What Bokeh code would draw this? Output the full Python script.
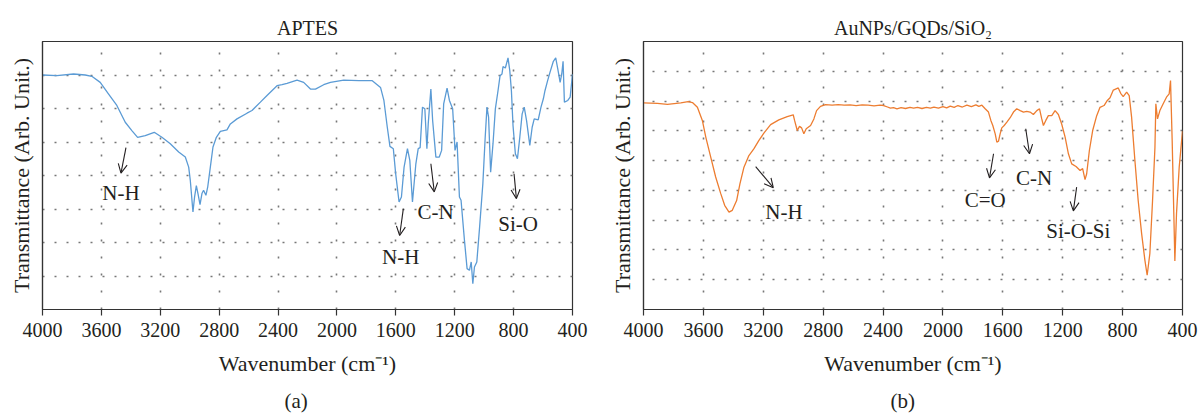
from bokeh.plotting import figure
from bokeh.models import Range1d, FixedTicker, Arrow, OpenHead, Label, Title
from bokeh.layouts import row
from bokeh.embed import file_html
from bokeh.resources import INLINE

# ---------------- data ----------------
x_ticks = [4000, 3600, 3200, 2800, 2400, 2000, 1600, 1200, 800, 400]

aptes_wn = [
    4000, 3903, 3789, 3710, 3665, 3608, 3551, 3495, 3438, 3393,
    3354, 3302, 3241, 3189, 3132, 3075, 3030, 3007, 2996, 2978,
    2967, 2955, 2944, 2930, 2917, 2906, 2890, 2878, 2860, 2842,
    2819, 2792, 2747, 2724, 2679, 2611, 2577, 2520, 2475, 2407,
    2373, 2339, 2271, 2226, 2180, 2146, 2090, 2044, 1954, 1850,
    1760, 1704, 1681, 1658, 1640, 1617, 1601, 1578, 1562, 1544,
    1521, 1505, 1487, 1464, 1448, 1435, 1419, 1403, 1389, 1380,
    1362, 1350, 1328, 1305, 1289, 1275, 1252, 1236, 1214, 1198,
    1184, 1168, 1157, 1134, 1116, 1100, 1088, 1077, 1066, 1050,
    1031, 1009, 993, 981, 970, 956, 940, 924, 906, 892,
    879, 872, 856, 838, 826, 815, 804, 788, 774, 758,
    742, 728, 712, 690, 674, 660, 633, 614, 598, 587,
    569, 553, 530, 514, 500, 484, 473, 464, 455, 432,
    416, 400,
]
aptes_t = [
    7.00, 6.98, 7.03, 7.00, 6.96, 6.78, 6.43, 6.09, 5.59, 5.34,
    5.14, 5.19, 5.29, 5.14, 4.95, 4.70, 4.55, 4.25, 3.85, 2.91,
    3.36, 3.70, 3.46, 3.13, 3.46, 3.56, 3.41, 3.65, 4.25, 4.85,
    5.14, 5.32, 5.36, 5.54, 5.69, 5.86, 5.94, 6.19, 6.39, 6.68,
    6.71, 6.75, 6.85, 6.78, 6.58, 6.58, 6.71, 6.78, 6.85, 6.83,
    6.83, 6.63, 6.24, 5.44, 4.87, 4.80, 4.05, 3.21, 3.36, 4.25,
    4.80, 4.45, 3.21, 4.35, 4.80, 4.83, 6.04, 5.99, 4.80, 5.54,
    6.58, 5.64, 4.55, 4.55, 4.75, 6.14, 6.61, 6.24, 5.99, 4.75,
    5.00, 3.36, 3.26, 2.07, 1.22, 1.17, 1.42, 0.77, 1.27, 1.42,
    2.46, 3.75, 5.14, 6.04, 5.74, 4.10, 4.95, 5.99, 6.53, 6.98,
    7.03, 7.25, 7.21, 7.51, 7.13, 6.53, 5.49, 4.65, 4.50, 5.14,
    5.84, 6.04, 5.64, 4.90, 5.44, 5.69, 5.66, 6.04, 6.29, 6.53,
    6.83, 7.08, 7.41, 7.51, 7.18, 6.78, 7.03, 7.41, 6.19, 6.24,
    6.34, 7.03,
]

composite_wn = [
    4000, 3907, 3840, 3751, 3702, 3673, 3640, 3607, 3584, 3551,
    3518, 3484, 3458, 3429, 3407, 3378, 3356, 3329, 3296, 3262,
    3229, 3196, 3151, 3096, 3040, 3000, 2991, 2973, 2958, 2944,
    2929, 2913, 2884, 2862, 2844, 2818, 2784, 2740, 2700, 2660,
    2620, 2580, 2540, 2500, 2460, 2420, 2396, 2370, 2351, 2330,
    2307, 2280, 2250, 2220, 2196, 2170, 2140, 2110, 2084, 2060,
    2030, 2000, 1975, 1951, 1925, 1900, 1870, 1840, 1810, 1780,
    1760, 1740, 1718, 1696, 1680, 1667, 1651, 1640, 1629, 1618,
    1607, 1591, 1573, 1551, 1529, 1507, 1484, 1462, 1440, 1418,
    1396, 1373, 1355, 1340, 1329, 1313, 1296, 1273, 1251, 1229,
    1207, 1184, 1162, 1140, 1111, 1084, 1067, 1051, 1040, 1022,
    1000, 973, 951, 924, 902, 884, 862, 829, 813, 796,
    773, 756, 740, 718, 696, 673, 651, 636, 618, 600,
    584, 578, 567, 551, 529, 507, 489, 480, 469, 458,
    451, 440, 422, 400,
]
composite_t = [
    6.94, 6.92, 6.89, 6.94, 6.98, 6.95, 6.79, 6.35, 5.79, 5.12,
    4.45, 3.89, 3.50, 3.27, 3.33, 3.66, 4.22, 4.78, 5.17, 5.40,
    5.68, 5.92, 6.21, 6.37, 6.48, 6.54, 6.35, 6.01, 6.15, 6.10,
    5.90, 6.07, 6.18, 6.40, 6.68, 6.82, 6.88, 6.86, 6.88, 6.86,
    6.87, 6.85, 6.87, 6.86, 6.84, 6.86, 6.85, 6.80, 6.76, 6.78,
    6.74, 6.78, 6.75, 6.79, 6.76, 6.79, 6.75, 6.79, 6.76, 6.80,
    6.76, 6.81, 6.77, 6.83, 6.79, 6.85, 6.80, 6.86, 6.81, 6.87,
    6.82, 6.86, 6.74, 6.63, 6.35, 6.18, 5.90, 5.62, 5.65, 5.90,
    6.10, 6.18, 6.29, 6.44, 6.63, 6.74, 6.68, 6.63, 6.65, 6.63,
    6.55, 6.68, 6.74, 6.40, 6.18, 6.35, 6.51, 6.51, 6.68, 6.55,
    6.23, 5.79, 5.23, 4.89, 4.80, 4.67, 4.73, 4.36, 4.56, 5.34,
    6.01, 6.51, 6.79, 6.85, 7.02, 7.11, 7.37, 7.44, 7.26, 7.15,
    7.30, 7.18, 6.46, 5.01, 3.66, 2.55, 1.65, 1.15, 1.88, 3.66,
    5.45, 6.91, 6.40, 6.68, 6.91, 7.13, 7.24, 7.69, 5.68, 3.22,
    1.63, 3.22, 4.78, 5.99,
]

# annotations: text, text x, text baseline y, arrow start (x, y), arrow end (x, y)
aptes_labels = ["N-H", "N-H", "C-N", "Si-O"]
aptes_label_x = [3467, 1567, 1330, 769]
aptes_label_y = [3.47, 1.57, 2.91, 2.55]
aptes_arrow_x0 = [3433, 1549, 1362, 797]
aptes_arrow_y0 = [4.83, 3.01, 4.35, 4.05]
aptes_arrow_x1 = [3467, 1574, 1339, 781]
aptes_arrow_y1 = [4.07, 2.21, 3.51, 3.31]

composite_labels = ["N-H", "C=O", "C-N", "Si-O-Si"]
composite_label_x = [3062, 1718, 1391, 1096]
composite_label_y = [3.27, 3.69, 4.42, 2.64]
composite_arrow_x0 = [3251, 1662, 1447, 1107]
composite_arrow_y0 = [4.80, 5.23, 6.07, 4.11]
composite_arrow_x1 = [3133, 1689, 1422, 1129]
composite_arrow_y1 = [4.09, 4.42, 5.23, 3.31]

# ---------------- styling ----------------
FONT = "Liberation Serif"
TXT = "#231f20"
AX = "#333333"


def panel(title, caption, cap_offset, wn, tr, color, ymax, labels, lx, ly,
          ax0, ay0, ax1, ay1, frame_w, b_left, b_right):
    p = figure(frame_width=frame_w, frame_height=268,
               min_border_left=b_left, min_border_right=b_right,
               min_border_top=41, min_border_bottom=108,
               x_range=Range1d(4000, 400), y_range=Range1d(0, ymax),
               output_backend="svg", toolbar_location=None, title=title)
    p.background_fill_color = "white"
    p.border_fill_color = "white"
    p.outline_line_color = AX
    p.outline_line_width = 1.2
    p.outline_line_alpha = 1.0

    p.title.text_font = FONT
    p.title.text_font_size = "20px"
    p.title.text_font_style = "normal"
    p.title.text_color = TXT
    p.title.align = "center"
    p.title.standoff = 5

    # x axis
    xa = p.xaxis[0]
    xa.ticker = FixedTicker(ticks=x_ticks)
    xa.axis_label = "Wavenumber (cm\u207b\u00b9)"
    xa.axis_label_text_font = FONT
    xa.axis_label_text_font_size = "22px"
    xa.axis_label_text_font_style = "normal"
    xa.axis_label_text_color = TXT
    xa.axis_label_standoff = 11
    xa.major_label_text_font = FONT
    xa.major_label_text_font_size = "20px"
    xa.major_label_text_color = TXT
    xa.major_label_standoff = 7
    xa.major_tick_in = 0
    xa.major_tick_out = 6
    xa.minor_tick_in = 0
    xa.minor_tick_out = 0
    xa.axis_line_color = AX
    xa.axis_line_width = 1.2
    xa.major_tick_line_color = AX
    xa.major_tick_line_width = 1.2

    # y axis (label only)
    ya = p.yaxis[0]
    ya.ticker = FixedTicker(ticks=[])
    ya.axis_label = "Transmittance (Arb. Unit.)"
    ya.axis_label_text_font = FONT
    ya.axis_label_text_font_size = "22px"
    ya.axis_label_text_font_style = "normal"
    ya.axis_label_text_color = TXT
    ya.axis_label_standoff = 9
    ya.major_label_standoff = 0
    ya.major_tick_in = 0
    ya.major_tick_out = 0
    ya.minor_tick_in = 0
    ya.minor_tick_out = 0
    ya.axis_line_color = AX
    ya.axis_line_width = 1.2

    # dotted grid
    p.xgrid.ticker = FixedTicker(ticks=x_ticks[1:-1])
    p.xgrid.grid_line_color = "#777777"
    p.xgrid.grid_line_width = 1.6
    p.xgrid.grid_line_dash = "2 15"
    p.ygrid.ticker = FixedTicker(ticks=list(range(1, ymax)))
    p.ygrid.grid_line_color = "#777777"
    p.ygrid.grid_line_width = 1.6
    p.ygrid.grid_line_dash = "2 10"

    p.line(wn, tr, line_color=color, line_width=1.3)

    for t, x, y in zip(labels, lx, ly):
        p.add_layout(Label(x=x, y=y, text=t, text_align="center",
                           text_baseline="alphabetic", text_font=FONT,
                           text_font_size="21px", text_color=TXT))
    for x0, y0, x1, y1 in zip(ax0, ay0, ax1, ay1):
        p.add_layout(Arrow(x_start=x0, y_start=y0, x_end=x1, y_end=y1,
                           line_color=TXT, line_width=1.1,
                           end=OpenHead(size=9, line_color=TXT, line_width=1.1)))

    cap = Title(text=caption, align="left", text_font=FONT,
                text_font_size="21px", text_font_style="normal",
                text_color=TXT, offset=cap_offset, standoff=17)
    p.add_layout(cap, "below")
    return p


p1 = panel("APTES", "(a)", 242, aptes_wn, aptes_t, "#5b9bd5", 8,
           aptes_labels, aptes_label_x, aptes_label_y,
           aptes_arrow_x0, aptes_arrow_y0, aptes_arrow_x1, aptes_arrow_y1,
           530, 42, 18)
p2 = panel("AuNPs/GQDs/SiO\u2082", "(b)", 247, composite_wn, composite_t, "#ed7d31", 9,
           composite_labels, composite_label_x, composite_label_y,
           composite_arrow_x0, composite_arrow_y0, composite_arrow_x1, composite_arrow_y1,
           539, 53, 19)

layout = row(p1, p2)
open("out.html", "w").write(file_html(layout, INLINE))
